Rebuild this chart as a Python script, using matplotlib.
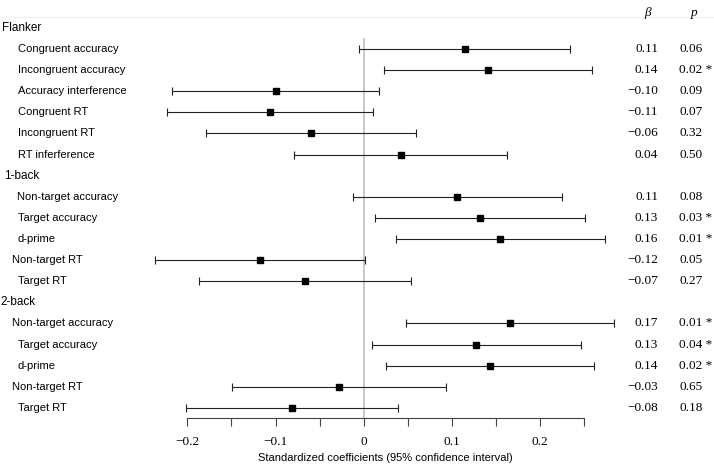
import numpy as np
import matplotlib.pyplot as plt

groups = ["Flanker", "1-back", "2-back"]
group_sizes = [6, 5, 5]
measures = ["Congruent accuracy", "Incongruent accuracy", "Accuracy interference",
            "Congruent RT", "Incongruent RT", "RT inferference",
            "Non-target accuracy", "Target accuracy", "d-prime", "Non-target RT", "Target RT",
            "Non-target accuracy", "Target accuracy", "d-prime", "Non-target RT", "Target RT"]
beta = [0.115, 0.141, -0.100, -0.106, -0.060, 0.042,
        0.106, 0.132, 0.155, -0.118, -0.067,
        0.166, 0.127, 0.143, -0.028, -0.081]
ci_low = [-0.005, 0.023, -0.218, -0.223, -0.179, -0.079,
          -0.012, 0.013, 0.037, -0.237, -0.187,
          0.048, 0.009, 0.025, -0.149, -0.202]
ci_high = [0.234, 0.259, 0.017, 0.011, 0.059, 0.163,
           0.225, 0.251, 0.274, 0.002, 0.054,
           0.284, 0.246, 0.261, 0.093, 0.039]
beta_labels = ["0.11", "0.14", "\u22120.10", "\u22120.11", "\u22120.06", "0.04",
               "0.11", "0.13", "0.16", "\u22120.12", "\u22120.07",
               "0.17", "0.13", "0.14", "\u22120.03", "\u22120.08"]
p_labels = ["0.06", "0.02 *", "0.09", "0.07", "0.32", "0.50",
            "0.08", "0.03 *", "0.01 *", "0.05", "0.27",
            "0.01 *", "0.04 *", "0.02 *", "0.65", "0.18"]

# label indents in pixels (as in the original figure)
group_indent = [2, 4, 0]
measure_indent = [18, 18, 18, 18, 18, 18, 17, 18, 18, 12, 18, 12, 18, 18, 12, 18]

W, H = 714, 467
X0, SCALE = 363.7, 881.5        # pixel of x=0, pixels per unit
ROW0, ROWH = 28, 21.1            # pixel of first row, row height
AX_BOTTOM = 418


def px2x(px):
    return (px - X0) / SCALE


def py2row(py):
    return (py - ROW0) / ROWH


sans = "Liberation Sans"
serif = "Liberation Serif"

fig = plt.figure(figsize=(W / 100, H / 100), dpi=100)
ax = fig.add_axes([0, (H - AX_BOTTOM) / H, 1, AX_BOTTOM / H])
ax.set_xlim(px2x(0), px2x(W))
ax.set_ylim(py2row(AX_BOTTOM), py2row(0))

# row positions
group_rows = []
measure_rows = []
r = 0
for g, n in zip(groups, group_sizes):
    group_rows.append(r)
    r += 1
    for _ in range(n):
        measure_rows.append(r)
        r += 1

beta_a = np.array(beta)
lo = np.array(ci_low)
hi = np.array(ci_high)

ax.axhline(py2row(17), color="#f2f2f2", lw=0.8)
ax.vlines(0, py2row(38), py2row(AX_BOTTOM), color="#c4c4c4", lw=1.3, zorder=1)

ax.errorbar(beta_a, measure_rows, xerr=[beta_a - lo, hi - beta_a], fmt="s",
            color="black", ecolor="#222222", ms=5, elinewidth=0.8,
            capsize=3.2, capthick=0.8, zorder=3)

for g, row, ind in zip(groups, group_rows, group_indent):
    ax.text(px2x(ind), row, g, family=sans, fontsize=8.5, va="center", ha="left")
for m, row, ind in zip(measures, measure_rows, measure_indent):
    ax.text(px2x(ind), row, m, family=sans, fontsize=8, va="center", ha="left")

for b, p, row in zip(beta_labels, p_labels, measure_rows):
    ax.text(px2x(658), row, b, family=serif, fontsize=9.5, va="center", ha="right")
    ax.text(px2x(679), row, p, family=serif, fontsize=9.5, va="center", ha="left")

ax.text(px2x(648), py2row(13), "\u03b2", family=serif, style="italic",
        fontsize=9.5, va="center", ha="center")
ax.text(px2x(694), py2row(13), "p", family=serif, style="italic",
        fontsize=9.5, va="center", ha="center")

for s in ["left", "right", "top"]:
    ax.spines[s].set_visible(False)
ax.spines["bottom"].set_bounds(-0.2, 0.25)
ax.spines["bottom"].set_color("#444444")
ax.spines["bottom"].set_linewidth(0.8)
ax.set_yticks([])

ticks = np.arange(-0.2, 0.251, 0.05)
tick_labels = ["\u22120.2", "", "\u22120.1", "", "0", "", "0.1", "", "0.2", ""]
ax.set_xticks(ticks)
ax.set_xticklabels(tick_labels, family=serif, fontsize=9.5)
ax.tick_params(axis="x", direction="out", length=5.8, width=0.8, color="#444444", pad=7)

fig.text(385.5 / W, 1 - 458 / H, "Standardized coefficients (95% confidence interval)",
         family=sans, fontsize=8, ha="center", va="center")

fig.savefig("out.png", dpi=100)
